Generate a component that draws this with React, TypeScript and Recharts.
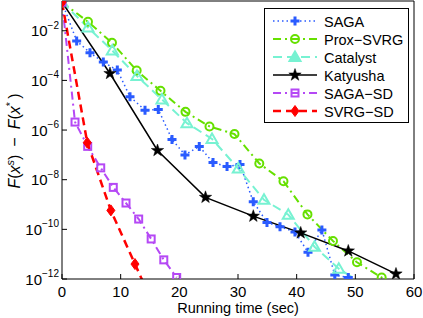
import { LineChart, Line, XAxis, YAxis } from 'recharts';

const FONT = '"Liberation Sans", Arial, Helvetica, sans-serif';

// running time (sec) and objective gap F(x^s) - F(x^*)
const sagaTime = [0, 2.5, 4.77, 7.04, 9.43, 11.59, 14.15, 16.41, 18.75, 20.96, 23.4, 25.74, 28.13, 30.34, 32.6, 34.94, 37.16, 39.71, 41.93, 44.3, 46.5, 48.8, 51.2];
const sagaGap = [0.141, 3.9e-3, 1.3e-3, 5.5e-4, 2.6e-4, 2.2e-5, 6.3e-6, 6.8e-6, 4.2e-7, 1.0e-7, 2.2e-7, 4.9e-8, 3.4e-8, 4.1e-8, 1.3e-9, 1.9e-10, 1.26e-10, 7.9e-11, 1.2e-11, 9.5e-11, 1.45e-12, 1.15e-12, 4e-13];

const proxTime = [0, 4.43, 8.52, 12.73, 16.79, 21.05, 25.14, 29.4, 33.63, 37.75, 41.84, 46.19, 50.28, 54.49, 58.7];
const proxGap = [0.141, 2.3e-2, 3.3e-3, 2.5e-4, 3.8e-5, 5.4e-6, 1.4e-6, 6.9e-7, 4.5e-8, 8.7e-9, 4.0e-10, 3.4e-11, 4.7e-12, 1.15e-12, 3e-13];

const catalystTime = [0, 4.43, 8.57, 12.78, 17.04, 21.3, 25.57, 30.05, 34.43, 38.57, 43.04, 47.18, 51.4];
const catalystGap = [0.141, 1.35e-2, 1.6e-3, 1.5e-4, 1.7e-5, 1.9e-6, 4.4e-7, 2.8e-8, 1.55e-9, 3.9e-10, 2.0e-11, 2.6e-12, 6e-13];

const katyushaTime = [0, 8.18, 16.28, 24.46, 32.61, 40.69, 48.8, 56.93];
const katyushaGap = [0.141, 1.9e-4, 1.5e-7, 1.95e-9, 3.4e-10, 7.2e-11, 1.35e-11, 1.6e-12];

const sagaSdTime = [0, 2.22, 4.38, 6.6, 8.74, 10.91, 13.07, 15.2, 17.35, 19.55];
const sagaSdGap = [0.141, 2.1e-6, 2.2e-7, 3.0e-8, 4.9e-9, 1.15e-9, 2.6e-10, 4.1e-11, 5.9e-12, 1.15e-12];

const svrgSdTime = [0, 4.31, 8.33, 12.44, 16.5];
const svrgSdGap = [0.141, 3.1e-7, 5.8e-10, 4.0e-12, 3e-14];

const xTicks = [0, 10, 20, 30, 40, 50, 60];
const yTicks = [1e-12, 1e-10, 1e-8, 1e-6, 1e-4, 1e-2];
const yDomain = [1e-12, 0.158];

const toPoints = (t: number[], g: number[]) => t.map((x, i) => ({ x, y: g[i] }));

type Shape = 'plus' | 'circle' | 'triangle' | 'star' | 'square' | 'diamond';

const series = [
  { name: 'SAGA', data: toPoints(sagaTime, sagaGap), color: '#2a5bff', dash: '1.5 3', width: 1.5, shape: 'plus' as Shape },
  { name: 'Prox\u2212SVRG', data: toPoints(proxTime, proxGap), color: '#66e000', dash: '8 4 2 4', width: 2, shape: 'circle' as Shape },
  { name: 'Catalyst', data: toPoints(catalystTime, catalystGap), color: '#77f2d2', dash: '9 5', width: 2, shape: 'triangle' as Shape },
  { name: 'Katyusha', data: toPoints(katyushaTime, katyushaGap), color: '#000000', dash: undefined, width: 1.5, shape: 'star' as Shape },
  { name: 'SAGA\u2212SD', data: toPoints(sagaSdTime, sagaSdGap), color: '#b548f5', dash: '8 4 2 4', width: 2, shape: 'square' as Shape },
  { name: 'SVRG\u2212SD', data: toPoints(svrgSdTime, svrgSdGap), color: '#ff0000', dash: '8 5', width: 2.5, shape: 'diamond' as Shape },
];

const starPoints = (cx: number, cy: number) => {
  const pts: string[] = [];
  for (let k = 0; k < 10; k++) {
    const a = (-90 + k * 36) * Math.PI / 180;
    const r = k % 2 === 0 ? 6.5 : 2.6;
    pts.push(`${cx + r * Math.cos(a)},${cy + r * Math.sin(a)}`);
  }
  return pts.join(' ');
};

const Marker = ({ shape, cx, cy, color, legend }: { shape: Shape; cx: number; cy: number; color: string; legend?: boolean }) => {
  switch (shape) {
    case 'plus':
      return <path d={`M${cx - 4.5},${cy}H${cx + 4.5}M${cx},${cy - 4.5}V${cy + 4.5}`} stroke={color} strokeWidth={3} fill="none" />;
    case 'circle':
      return <circle cx={cx} cy={cy} r={4} fill="none" stroke={color} strokeWidth={2} />;
    case 'triangle':
      return (
        <polygon
          points={`${cx},${cy - 5.5} ${cx + 5.5},${cy + 4} ${cx - 5.5},${cy + 4}`}
          fill={legend ? color : 'none'}
          stroke={color}
          strokeWidth={2}
        />
      );
    case 'star':
      return <polygon points={starPoints(cx, cy)} fill={color} stroke={color} strokeWidth={0.5} />;
    case 'square':
      return <rect x={cx - 3.5} y={cy - 3.5} width={7} height={7} fill="none" stroke={color} strokeWidth={2} />;
    case 'diamond':
      return <polygon points={`${cx},${cy - 5.5} ${cx + 4},${cy} ${cx},${cy + 5.5} ${cx - 4},${cy}`} fill={color} stroke={color} strokeWidth={1} />;
  }
  return null;
};

const makeDot = (name: string, shape: Shape, color: string) => (props: any) => {
  const { cx, cy, payload, index } = props;
  const key = `${name}-${index}`;
  if (cx == null || cy == null || payload.y < yDomain[0] * 0.999 || payload.x > 60) return <g key={key} />;
  return (
    <g key={key}>
      <Marker shape={shape} cx={cx} cy={cy} color={color} />
    </g>
  );
};

const YTick = (props: any) => {
  const { x, y, payload } = props;
  const exp = Math.round(Math.log10(payload.value));
  return (
    <text x={x} y={y} textAnchor="end" fontSize={15} fontFamily={FONT} fill="#000">
      <tspan dy={5.5}>10</tspan>
      <tspan dy={-7.5} fontSize={10}>{`\u2212${Math.abs(exp)}`}</tspan>
    </text>
  );
};

const YLabel = () => (
  <text
    x={0}
    y={0}
    transform="translate(20,141) rotate(-90)"
    textAnchor="middle"
    fontSize={16}
    fontFamily={FONT}
    fill="#000"
  >
    <tspan fontStyle="italic">F</tspan>
    <tspan>(</tspan>
    <tspan fontStyle="italic">x</tspan>
    <tspan dy={-6.5} fontSize={11} fontStyle="italic">s</tspan>
    <tspan dy={6.5}>{')\u2002\u2212\u2002'}</tspan>
    <tspan fontStyle="italic">F</tspan>
    <tspan>(</tspan>
    <tspan fontStyle="italic">x</tspan>
    <tspan dy={-6.5} fontSize={11}>*</tspan>
    <tspan dy={6.5}>{'\u2009)'}</tspan>
  </text>
);

const LegendBox = () => (
  <svg width={145} height={115} style={{ display: 'block' }}>
    <rect x={0.5} y={0.5} width={144} height={114} fill="#fff" stroke="#000" strokeWidth={1} />
    {series.map((s, i) => {
      const cy = 13 + i * 18;
      return (
        <g key={s.name}>
          <line x1={9} x2={53} y1={cy} y2={cy} stroke={s.color} strokeWidth={s.width} strokeDasharray={s.dash} />
          <Marker shape={s.shape} cx={31} cy={cy} color={s.color} legend />
          <text x={60} y={cy + 5.5} fontSize={14.5} fontFamily={FONT} fill="#000">
            {s.name}
          </text>
        </g>
      );
    })}
  </svg>
);

export default function App() {
  return (
    <div style={{ position: 'absolute', left: 0, top: 0, width: 423, height: 318, background: '#fff' }}>
      <LineChart width={423} height={318} margin={{ top: 0, right: 8, bottom: 0, left: 0 }}>
        <XAxis
          xAxisId="b"
          dataKey="x"
          type="number"
          domain={[0, 60]}
          ticks={xTicks}
          allowDataOverflow
          height={39}
          stroke="#000"
          tickSize={-5}
          tickMargin={12}
          tick={{ fill: '#000', fontSize: 15, fontFamily: FONT }}
          label={{ value: 'Running time (sec)', position: 'insideBottom', offset: 5, fill: '#000', fontSize: 14.5, fontFamily: FONT }}
        />
        <XAxis
          xAxisId="t"
          orientation="top"
          dataKey="x"
          type="number"
          domain={[0, 60]}
          ticks={xTicks}
          allowDataOverflow
          height={1}
          stroke="#000"
          tickSize={-5}
          tick={false}
        />
        <YAxis
          yAxisId="l"
          dataKey="y"
          type="number"
          scale="log"
          domain={yDomain}
          ticks={yTicks}
          allowDataOverflow
          width={62}
          stroke="#000"
          tickSize={-5}
          tickMargin={8}
          tick={<YTick />}
          label={<YLabel />}
        />
        <YAxis
          yAxisId="r"
          orientation="right"
          dataKey="y"
          type="number"
          scale="log"
          domain={yDomain}
          ticks={yTicks}
          allowDataOverflow
          width={1}
          stroke="#000"
          tickSize={-5}
          tick={false}
        />
        {series.map((s) => (
          <Line
            key={s.name}
            xAxisId="b"
            yAxisId="l"
            data={s.data}
            dataKey="y"
            name={s.name}
            stroke={s.color}
            strokeWidth={s.width}
            strokeDasharray={s.dash}
            dot={makeDot(s.name, s.shape, s.color)}
            activeDot={false}
            isAnimationActive={false}
          />
        ))}
      </LineChart>
      <div style={{ position: 'absolute', left: 264, top: 8 }}>
        <LegendBox />
      </div>
    </div>
  );
}
